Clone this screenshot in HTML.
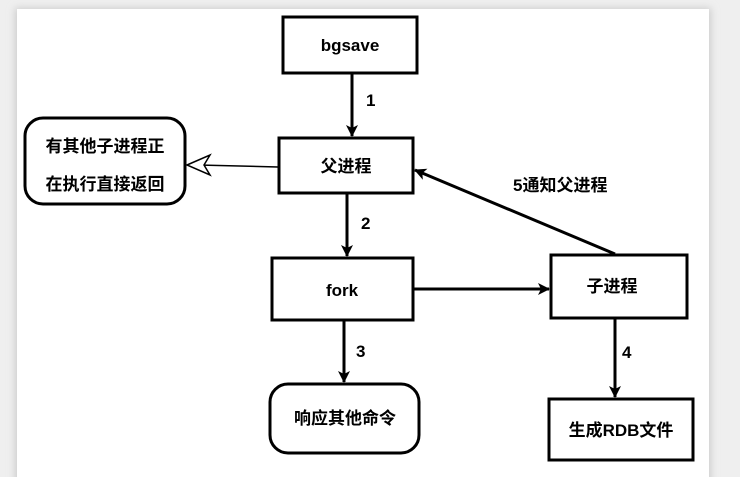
<!DOCTYPE html>
<html><head><meta charset="utf-8"><style>
html,body{margin:0;padding:0;background:#efefef;}
svg{display:block;}
text{font-family:"Liberation Sans","Noto Sans CJK SC",sans-serif;font-weight:bold;font-size:17px;fill:#000;}
</style></head><body>
<svg width="740" height="477" viewBox="0 0 740 477" xmlns="http://www.w3.org/2000/svg">
<defs>
<filter id="sh" x="-5%" y="-5%" width="110%" height="110%"><feGaussianBlur stdDeviation="4"/></filter>
<marker id="ah" markerWidth="12" markerHeight="12" refX="11" refY="6" orient="auto" markerUnits="userSpaceOnUse"><path d="M0,0 L12,6 L0,12 L3,6 z" fill="#000"/></marker>
</defs>
<rect x="15" y="8" width="696" height="480" fill="#ccc" filter="url(#sh)"/>
<rect x="17" y="9" width="692" height="470" fill="#fff"/>
<g fill="none" stroke="#000" stroke-width="3">
<rect x="283" y="17" width="134" height="56"/>
<rect x="279" y="138" width="134" height="55"/>
<rect x="25" y="118" width="160" height="86" rx="18"/>
<rect x="272" y="258" width="141" height="62"/>
<rect x="551" y="255" width="136" height="63"/>
<rect x="270" y="384" width="149" height="69" rx="18"/>
<rect x="549" y="399" width="144" height="61"/>
</g>
<g stroke="#000" stroke-width="3" fill="none">
<line x1="352" y1="73" x2="352" y2="136" marker-end="url(#ah)"/>
<line x1="347" y1="193" x2="347" y2="256" marker-end="url(#ah)"/>
<line x1="344" y1="320" x2="344" y2="382" marker-end="url(#ah)"/>
<line x1="615" y1="318" x2="615" y2="397" marker-end="url(#ah)"/>
<line x1="413" y1="289" x2="549" y2="289" marker-end="url(#ah)"/>
<line x1="615" y1="254" x2="415" y2="170" marker-end="url(#ah)"/>
</g>
<line x1="278" y1="167" x2="198" y2="165" stroke="#000" stroke-width="1.5"/>
<path d="M187,165 L210,155 L204,165 L210,175 z" fill="#fff" stroke="#000" stroke-width="1.5"/>
<text x="350" y="51" text-anchor="middle">bgsave</text>
<text x="346" y="172" text-anchor="middle">父进程</text>
<text x="342" y="296" text-anchor="middle">fork</text>
<text x="612" y="292" text-anchor="middle">子进程</text>
<text x="345" y="424" text-anchor="middle" font-size="16">响应其他命令</text>
<text x="621" y="436" text-anchor="middle" font-size="16">生成RDB文件</text>
<text x="105" y="152" text-anchor="middle" font-size="16">有其他子进程正</text>
<text x="105" y="190" text-anchor="middle" font-size="16">在执行直接返回</text>
<text x="366" y="106">1</text>
<text x="361" y="229">2</text>
<text x="356" y="357">3</text>
<text x="622" y="358">4</text>
<text x="513" y="191" font-size="16">5通知父进程</text>
</svg>
</body></html>
